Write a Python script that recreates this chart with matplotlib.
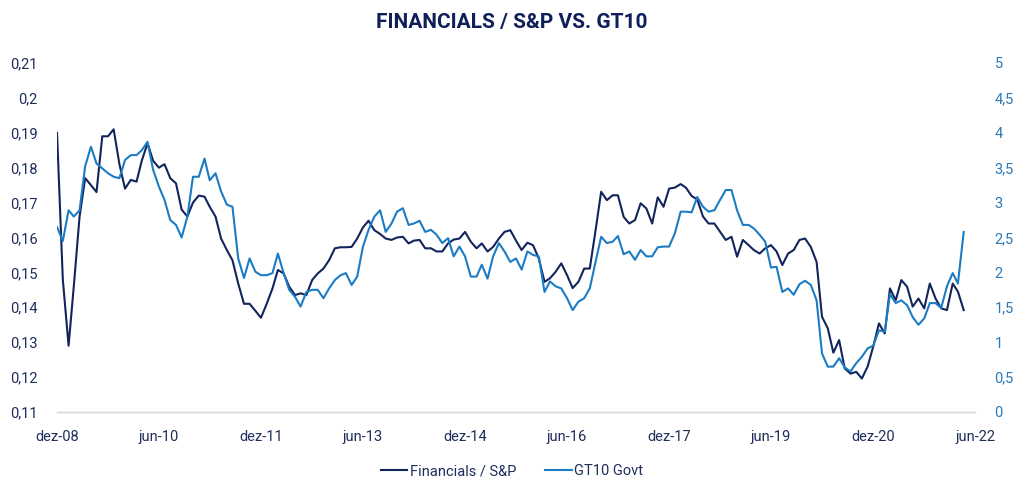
import numpy as np
import pandas as pd
import matplotlib
matplotlib.use("Agg")
import matplotlib.pyplot as plt

plt.rcParams['font.family'] = ['Roboto', 'DejaVu Sans']

# monthly observations, dez-08 .. abr-22
dates = pd.date_range('2008-12-01', periods=161, freq='MS')

fin_sp = [
    0.190, 0.148, 0.129, 0.146, 0.166, 0.177, 0.175, 0.173, 0.189, 0.189,
    0.191, 0.181, 0.174, 0.1765, 0.176, 0.182, 0.187, 0.182, 0.180, 0.181,
    0.177, 0.1755, 0.168, 0.166, 0.170, 0.172, 0.1717, 0.1688, 0.166, 0.1597,
    0.1564, 0.1535, 0.1468, 0.141, 0.141, 0.139, 0.137, 0.141, 0.1454, 0.1507,
    0.1497, 0.1459, 0.1435, 0.144, 0.1435, 0.1478, 0.1497, 0.1511, 0.1535, 0.1569,
    0.1572, 0.1572, 0.1573, 0.1597, 0.1629, 0.1648, 0.1621, 0.161, 0.1597, 0.1593,
    0.160, 0.1602, 0.1583, 0.1591, 0.1593, 0.1569, 0.1569, 0.156, 0.156, 0.1583,
    0.1594, 0.1597, 0.1616, 0.1588, 0.1569, 0.1583, 0.156, 0.1573, 0.1597, 0.1616,
    0.1621, 0.1591, 0.1564, 0.1585, 0.1578, 0.154, 0.1473, 0.1483, 0.1502, 0.1526,
    0.1492, 0.1455, 0.1473, 0.1511, 0.1511, 0.162, 0.1731, 0.1707, 0.1721, 0.1721,
    0.1659, 0.164, 0.165, 0.1698, 0.1683, 0.164, 0.1715, 0.1688, 0.174, 0.1743,
    0.1753, 0.1743, 0.1719, 0.1709, 0.166, 0.164, 0.164, 0.1616, 0.1593, 0.1602,
    0.1545, 0.1593, 0.1578, 0.1564, 0.1554, 0.1569, 0.1578, 0.156, 0.1521, 0.1554,
    0.1564, 0.1593, 0.1597, 0.1573, 0.153, 0.1373, 0.134, 0.127, 0.1306, 0.1225,
    0.121, 0.1215, 0.1196, 0.123, 0.1287, 0.1354, 0.1325, 0.1454, 0.142, 0.1478,
    0.1459, 0.1402, 0.1425, 0.1397, 0.1468, 0.1425, 0.1397, 0.1392, 0.1468, 0.1445,
    0.1392,
]

gt10 = [
    2.65, 2.45, 2.89, 2.80, 2.89, 3.52, 3.80, 3.56, 3.49, 3.42,
    3.37, 3.35, 3.61, 3.68, 3.68, 3.75, 3.87, 3.47, 3.23, 3.04,
    2.75, 2.68, 2.50, 2.80, 3.37, 3.37, 3.63, 3.32, 3.42, 3.16,
    2.97, 2.94, 2.20, 1.92, 2.20, 2.01, 1.96, 1.96, 1.99, 2.27,
    1.99, 1.75, 1.65, 1.51, 1.72, 1.75, 1.75, 1.63, 1.77, 1.89,
    1.96, 1.99, 1.82, 1.94, 2.37, 2.61, 2.80, 2.89, 2.58, 2.70,
    2.87, 2.92, 2.68, 2.70, 2.74, 2.58, 2.61, 2.54, 2.42, 2.49,
    2.23, 2.37, 2.23, 1.94, 1.94, 2.11, 1.91, 2.23, 2.42, 2.30,
    2.15, 2.20, 2.04, 2.30, 2.25, 2.23, 1.72, 1.87, 1.80, 1.77,
    1.63, 1.46, 1.58, 1.63, 1.77, 2.15, 2.51, 2.42, 2.44, 2.52,
    2.26, 2.30, 2.18, 2.32, 2.23, 2.23, 2.36, 2.37, 2.37, 2.56,
    2.87, 2.87, 2.86, 3.08, 2.94, 2.87, 2.89, 3.04, 3.18, 3.18,
    2.89, 2.68, 2.68, 2.63, 2.54, 2.44, 2.07, 2.08, 1.72, 1.77,
    1.68, 1.83, 1.88, 1.82, 1.60, 0.84, 0.65, 0.65, 0.77, 0.64,
    0.58, 0.70, 0.79, 0.91, 0.95, 1.17, 1.15, 1.69, 1.56, 1.60,
    1.53, 1.36, 1.25, 1.34, 1.56, 1.56, 1.49, 1.80, 1.99, 1.84,
    2.58,
]

tick_dates = pd.date_range('2008-12-01', '2022-06-01', freq='18MS')
tick_labels = ['dez-08', 'jun-10', 'dez-11', 'jun-13', 'dez-14',
               'jun-16', 'dez-17', 'jun-19', 'dez-20', 'jun-22']
left_ticks = np.round(np.arange(0.11, 0.2101, 0.01), 2)
right_ticks = np.arange(0, 5.01, 0.5)

navy = '#13245c'
blue = '#1b7cc4'
lbl_left = '#1f2d5c'
lbl_right = '#2a78b8'

fig = plt.figure(figsize=(10.24, 4.94), dpi=100)
ax = fig.add_axes([0.0557, 0.166, 0.8965, 0.7065])
ax2 = ax.twinx()

l1, = ax.plot(dates, fin_sp, color=navy, lw=1.5, label='Financials / S&P')
l2, = ax2.plot(dates, gt10, color=blue, lw=1.5, label='GT10 Govt')

ax.set_xlim(pd.Timestamp('2008-12-01'), pd.Timestamp('2022-06-01'))
ax.set_ylim(0.11, 0.21)
ax2.set_ylim(0, 5)

def fmt(v):
    s = ('%.2f' % v).rstrip('0').rstrip('.')
    return s.replace('.', ',')

ax.set_yticks(left_ticks)
ax.set_yticklabels([fmt(v) for v in left_ticks])
ax2.set_yticks(right_ticks)
ax2.set_yticklabels([fmt(v) for v in right_ticks])
ax.set_xticks(tick_dates)
ax.set_xticklabels(tick_labels)

for a in (ax, ax2):
    for s in ('top', 'left', 'right'):
        a.spines[s].set_visible(False)
    a.spines['bottom'].set_color('#d9d9d9')
    a.spines['bottom'].set_linewidth(1)

ax.tick_params(axis='y', length=0, pad=14, labelsize=10.5, labelcolor=lbl_left)
ax.tick_params(axis='x', length=0, pad=13, labelsize=10.5, labelcolor=lbl_left)
ax2.tick_params(axis='y', length=0, pad=14, labelsize=10.5, labelcolor=lbl_right)

fig.text(0.5, 0.955, 'FINANCIALS / S&P VS. GT10', ha='center', va='center',
         fontsize=15, fontweight='bold', color='#0f1f5a')

fig.legend([l1, l2], ['Financials / S&P', 'GT10 Govt'], loc='center',
           bbox_to_anchor=(0.5, 0.046), ncol=2, frameon=False, fontsize=10.5,
           handlelength=1.8, handletextpad=0.2, columnspacing=2.0,
           labelcolor=lbl_left)

fig.savefig('out.png', dpi=100)
